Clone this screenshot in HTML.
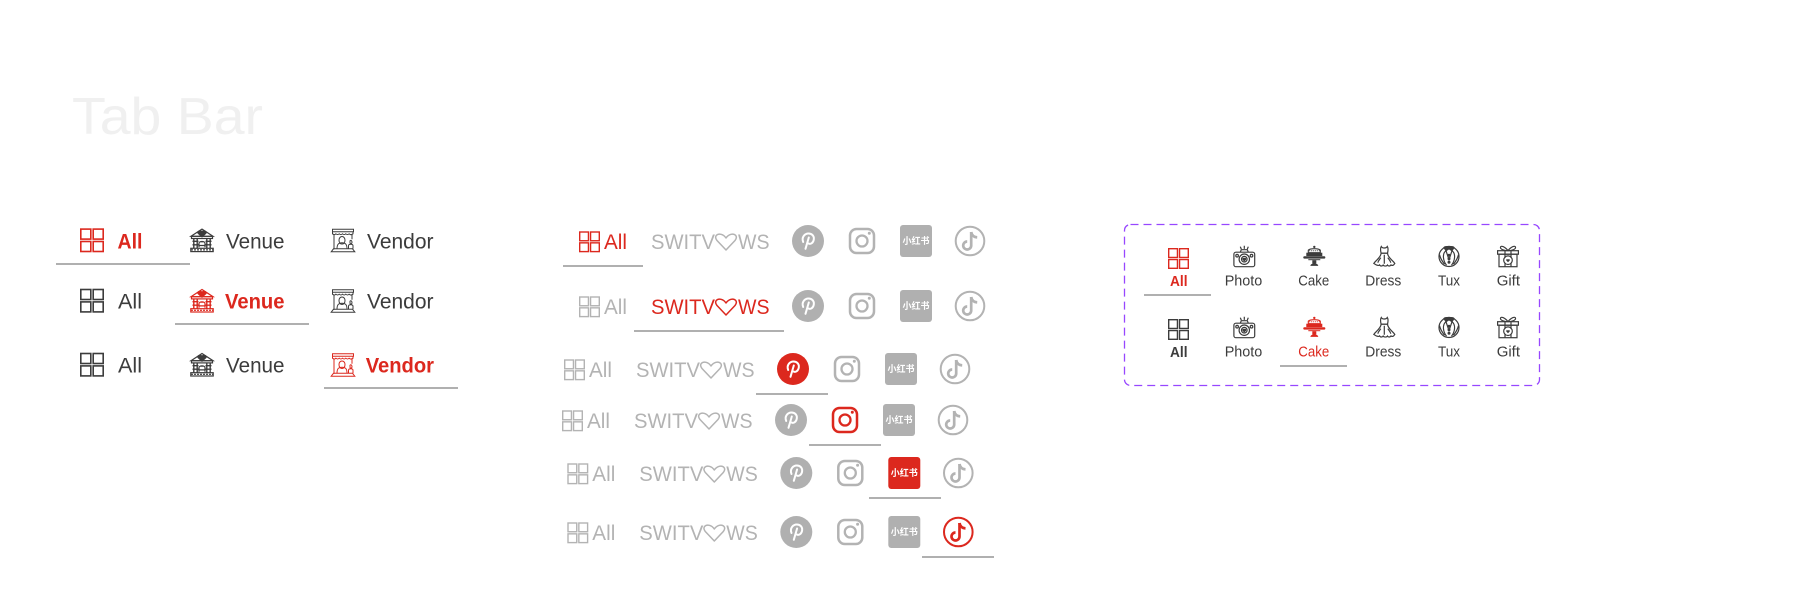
<!DOCTYPE html>
<html lang="en">
<head>
<meta charset="utf-8">
<title>Tab Bar</title>
<style>
html,body{margin:0;padding:0;background:#fff;width:1800px;height:593px;overflow:hidden}
svg{display:block}
text{font-family:"Liberation Sans","Noto Sans CJK SC",sans-serif}
.u{fill:#b0b0b0}
.g{fill:#b3b3b3}
.d{fill:#3c3c3c}
.r{fill:#dc281e}
.b{font-weight:bold}
.xhs{font-family:"Noto Sans CJK SC","Liberation Sans",sans-serif;font-weight:bold;font-size:9px;fill:#fff;text-anchor:middle}
</style>
</head>
<body>
<svg width="1800" height="593" viewBox="0 0 1800 593" xmlns="http://www.w3.org/2000/svg">
<defs>
<g id="grid" fill="none" stroke="currentColor" stroke-width="1.6">
<rect x=".8" y=".8" width="10" height="10"/><rect x="13.2" y=".8" width="10" height="10"/>
<rect x=".8" y="13.2" width="10" height="10"/><rect x="13.2" y="13.2" width="10" height="10"/>
</g>
<g id="venue" fill="none" stroke="currentColor" stroke-width="1.200">
<path d="M1 8 12 .8 23 8z"/>
<path d="M12 8.500 8 4.800c-.8-2 2.600-3 4-1.300 1.400-1.700 4.800-.7 4 1.300z" fill="currentColor"/>
<rect x="1.500" y="8" width="21" height="2.200"/>
<path d="M3.800 10v10M7.200 10v10M16.800 10v10M20.200 10v10M2.500 13h6M15.500 13h6M2.500 16.500h6M15.500 16.500h6" stroke-width="1.400"/>
<path d="M9 19v-4c0-2.500 6-2.500 6 0v4M8.500 17.200h7M10.500 13.500h3"/>
<rect x=".8" y="20" width="22.400" height="3.300"/><path d="M1 21.600h22" stroke-dasharray="2 1"/>
</g>
<g id="vendor" fill="none" stroke="currentColor" stroke-width="1">
<path d="M1.500 1h21v2.500h-21zM1.500 3.500v2c1.500 1.200 2.500 1 3.400 0 1 1 2.400 1 3.300 0 1 1 2.400 1 3.300 0 1 1 2.400 1 3.300 0 1 1 2.400 1 3.300 0 1 1 2.400 1.200 3.900 0v-2"/>
<path d="M3 6v15M21 6v5"/>
<path d="M.2 23.500 2.500 20.500h19l2.300 3z"/>
<path d="M8 12c0-5 6-5 6 0s-6 5-6 0zM6 20.500c0-5 2-6 5-6s5 1 5 6"/>
<path d="M19 12.500c1-1 2 0 2 1.500s-2 2-2 .5zM17.500 20.500v-3c0-2 4.500-2 4.500 0v3"/>
</g>
<g id="pin">
<path d="M-4.800 1C-6.800-4-3-7.500.5-7.500 4-7.500 6.300-5 5.800-1.500 5.300 2 2.500 3.500.5 2.500M.8-3.500-2.500 7.800" fill="none" stroke="#fff" stroke-width="2" stroke-linecap="round"/>
</g>
<g id="ig" fill="none" stroke="currentColor" stroke-width="2.500">
<rect x="-12" y="-12" width="24" height="24" rx="6.500"/>
<circle r="5.500" stroke-width="2.300"/>
<circle cx="7.300" cy="-7.700" r="1.500" fill="currentColor" stroke="none"/>
</g>
<g id="tt" fill="none" stroke="currentColor">
<circle r="14.300" stroke-width="2"/>
<path d="M1.200-9V4.500a4 4 0 1 1-4-4" stroke-width="2.700"/>
<path d="M1.200-9c.5 3.300 2.800 5.200 6 5.400" stroke-width="2.700"/>
</g>
<path id="heart" d="M726 250 717 240.500C713.500 236 717.500 233.500 721 234.300 723.500 234.900 725 236.500 726 238 727 236.500 729 234.900 731 234.300 734.500 233.500 738.500 236 735 240.500Z" fill="none" stroke="currentColor" stroke-width="1.500" stroke-linejoin="round"/>
<g id="camera" fill="none" stroke="currentColor" stroke-width="1.200">
<path d="M11 0v3.200M7 1l1 2.400M15 1l-1 2.400"/>
<path d="M7 6.500 8 4h6l1 2.500"/>
<rect x=".6" y="6.500" width="20.800" height="14.500" rx="2"/>
<circle cx="11" cy="13.500" r="5.200"/><circle cx="11" cy="13.500" r="2.800"/>
<path d="M11 15l-1.300-1.300c-.5-1 1-1.500 1.300-.6.300-.9 1.800-.4 1.300.6z" fill="currentColor"/>
<circle cx="3.800" cy="10" r="1.300"/><circle cx="18.200" cy="10" r="1.300"/>
</g>
<g id="cake" fill="currentColor">
<circle cx="11" cy="1.200" r="1.200"/>
<path d="M5 7V4.500C7 2.500 15 2.500 17 4.500V7z" fill="none" stroke="currentColor" stroke-width="1.100"/>
<path d="M5.500 5h11" stroke="currentColor" stroke-dasharray="1 1" fill="none"/>
<rect x="3" y="7" width="16" height="3.400"/>
<rect x="0" y="10.500" width="22" height="2.400" rx="1"/>
<rect x="5" y="13.500" width="12" height="1"/>
<path d="M9 14.500h4v3.500h-4z"/>
<path d="M7 20.200c.5-2 2-2.400 4-2.400s3.500.400 4 2.400z"/>
</g>
<g id="dress" fill="none" stroke="currentColor" stroke-width="1.200">
<path d="M8 .8c.5 1 1.500 1.500 3 1.500s2.500-.5 3-1.500c1 1.500 1 3.500 .2 6.700h-6.400C7 4.300 7 2.300 8 .8z"/>
<path d="M7.800 7.500H14.200C14.500 12 19.500 14.500 21.500 17.700c-1.500 2.500-3 2.300-3.800 1.500-1 1.500-3 1.300-3.500.2-.8 1.300-3.600 1.300-4.400 0-.6 1.100-2.600 1.300-3.500-.2C5.500 20 4 20.200.5 17.700 2.500 14.500 7.500 12 7.800 7.500z"/>
<path d="M11 9v9M7.500 12c-1 1.500-2.500 3-3 5M14.500 12c1 1.500 2.500 3 3 5"/>
</g>
<g id="tux" fill="none" stroke="currentColor" stroke-width="1.200">
<circle cx="11" cy="10.800" r="10"/>
<path d="M6 1.800 8 5 11 3 14 5 16 1.800C15 .5 7 .5 6 1.800z" fill="currentColor"/>
<path d="M8 5C4 8 5 15 8.500 19.500M14 5C18 8 17 15 13.500 19.500M8 5 11 14 14 5M1.500 9c1 4 3 7 5 9.500M20.500 9c-1 4-3 7-5 9.500"/>
<circle cx="11" cy="9.500" r=".9" fill="currentColor"/><circle cx="11" cy="13" r=".9" fill="currentColor"/><circle cx="11" cy="16.500" r=".9" fill="currentColor"/>
</g>
<g id="gift" fill="none" stroke="currentColor" stroke-width="1.200">
<rect x=".6" y="5" width="20.800" height="3.500"/>
<rect x="2" y="8.500" width="18" height="12.500"/>
<path d="M11 5C8 1 4 -.5 3.500 1.500 3 3.500 7 5 11 5zM11 5c3-4 7-5.500 7.500-3.500C19 3.500 15 5 11 5z"/>
<path d="M8 5v7M14 5v7M8 17v4M14 17v4"/>
<circle cx="11" cy="14.500" r="4.300"/>
<path d="M11 16.500 9.300 14.800c-.7-1.200 1.200-2 1.700-.8.500-1.200 2.400-.4 1.700.8z" fill="currentColor" stroke="none"/>
</g>
</defs>

<text x="72" y="134" font-size="52" fill="#f0f0f0" textLength="191" lengthAdjust="spacingAndGlyphs">Tab Bar</text>

<!-- Left tab bars -->
<g font-size="21">
<use href="#grid" x="80" y="228.300" color="#dc281e"/>
<text class="r b" x="117.500" y="248.500" textLength="25" lengthAdjust="spacingAndGlyphs">All</text>
<use href="#venue" x="190" y="228.300" color="#3c3c3c"/>
<text class="d" x="226" y="248.500" textLength="58.500" lengthAdjust="spacingAndGlyphs">Venue</text>
<use href="#vendor" x="331" y="228.300" color="#3c3c3c"/>
<text class="d" x="367" y="248.500" textLength="66.500" lengthAdjust="spacingAndGlyphs">Vendor</text>
<rect class="u" x="56" y="263" width="134" height="2"/>

<use href="#grid" x="80" y="288.700" color="#3c3c3c"/>
<text class="d" x="118" y="308.500" textLength="24" lengthAdjust="spacingAndGlyphs">All</text>
<use href="#venue" x="190" y="288.700" color="#dc281e"/>
<text class="r b" x="225" y="308.500" textLength="59.500" lengthAdjust="spacingAndGlyphs">Venue</text>
<use href="#vendor" x="331" y="288.700" color="#3c3c3c"/>
<text class="d" x="367" y="308.500" textLength="66.500" lengthAdjust="spacingAndGlyphs">Vendor</text>
<rect class="u" x="175" y="323" width="134" height="2"/>

<use href="#grid" x="80" y="352.700" color="#3c3c3c"/>
<text class="d" x="118" y="372.500" textLength="24" lengthAdjust="spacingAndGlyphs">All</text>
<use href="#venue" x="190" y="352.700" color="#3c3c3c"/>
<text class="d" x="226" y="372.500" textLength="58.500" lengthAdjust="spacingAndGlyphs">Venue</text>
<use href="#vendor" x="331" y="352.700" color="#dc281e"/>
<text class="r b" x="365.700" y="372.500" textLength="68.300" lengthAdjust="spacingAndGlyphs">Vendor</text>
<rect class="u" x="324" y="387" width="134" height="2"/>
</g>

<!-- Middle tab bars -->
<g font-size="21">
<!-- Row 1 -->
<g>
<use href="#grid" transform="translate(579 231.300) scale(.875)" color="#dc281e"/>
<text class="r" x="604" y="249" textLength="23" lengthAdjust="spacingAndGlyphs">All</text>
<text class="g" x="651" y="249" textLength="64" lengthAdjust="spacingAndGlyphs">SWITV</text>
<use href="#heart" color="#b3b3b3"/>
<text class="g" x="738" y="249" textLength="31.500" lengthAdjust="spacingAndGlyphs">WS</text>
<circle cx="808" cy="241" r="16" fill="#b0b0b0"/><use href="#pin" x="808" y="241"/>
<use href="#ig" x="862" y="241" color="#b3b3b3"/>
<rect x="900" y="225" width="32" height="32" rx="3" fill="#b0b0b0"/><text class="xhs" x="916" y="244">小红书</text>
<use href="#tt" x="970" y="241" color="#b3b3b3"/>
<rect class="u" x="563" y="265" width="80" height="2"/>
</g>
<!-- Row 2 -->
<g transform="translate(0 65)">
<use href="#grid" transform="translate(579 231.300) scale(.875)" color="#b3b3b3"/>
<text class="g" x="604" y="249" textLength="23" lengthAdjust="spacingAndGlyphs">All</text>
<text class="r" x="651" y="249" textLength="64" lengthAdjust="spacingAndGlyphs">SWITV</text>
<use href="#heart" color="#dc281e"/>
<text class="r" x="738" y="249" textLength="31.500" lengthAdjust="spacingAndGlyphs">WS</text>
<circle cx="808" cy="241" r="16" fill="#b0b0b0"/><use href="#pin" x="808" y="241"/>
<use href="#ig" x="862" y="241" color="#b3b3b3"/>
<rect x="900" y="225" width="32" height="32" rx="3" fill="#b0b0b0"/><text class="xhs" x="916" y="244">小红书</text>
<use href="#tt" x="970" y="241" color="#b3b3b3"/>
<rect class="u" x="634" y="265" width="150" height="2"/>
</g>
<!-- Row 3 -->
<g transform="translate(-15 128)">
<use href="#grid" transform="translate(579 231.300) scale(.875)" color="#b3b3b3"/>
<text class="g" x="604" y="249" textLength="23" lengthAdjust="spacingAndGlyphs">All</text>
<text class="g" x="651" y="249" textLength="64" lengthAdjust="spacingAndGlyphs">SWITV</text>
<use href="#heart" color="#b3b3b3"/>
<text class="g" x="738" y="249" textLength="31.500" lengthAdjust="spacingAndGlyphs">WS</text>
<circle cx="808" cy="241" r="16" fill="#dc281e"/><use href="#pin" x="808" y="241"/>
<use href="#ig" x="862" y="241" color="#b3b3b3"/>
<rect x="900" y="225" width="32" height="32" rx="3" fill="#b0b0b0"/><text class="xhs" x="916" y="244">小红书</text>
<use href="#tt" x="970" y="241" color="#b3b3b3"/>
<rect class="u" x="771" y="265" width="72" height="2"/>
</g>
<!-- Row 4 -->
<g transform="translate(-17 179)">
<use href="#grid" transform="translate(579 231.300) scale(.875)" color="#b3b3b3"/>
<text class="g" x="604" y="249" textLength="23" lengthAdjust="spacingAndGlyphs">All</text>
<text class="g" x="651" y="249" textLength="64" lengthAdjust="spacingAndGlyphs">SWITV</text>
<use href="#heart" color="#b3b3b3"/>
<text class="g" x="738" y="249" textLength="31.500" lengthAdjust="spacingAndGlyphs">WS</text>
<circle cx="808" cy="241" r="16" fill="#b0b0b0"/><use href="#pin" x="808" y="241"/>
<use href="#ig" x="862" y="241" color="#dc281e"/>
<rect x="900" y="225" width="32" height="32" rx="3" fill="#b0b0b0"/><text class="xhs" x="916" y="244">小红书</text>
<use href="#tt" x="970" y="241" color="#b3b3b3"/>
<rect class="u" x="826" y="265" width="72" height="2"/>
</g>
<!-- Row 5 -->
<g transform="translate(-11.700 232)">
<use href="#grid" transform="translate(579 231.300) scale(.875)" color="#b3b3b3"/>
<text class="g" x="604" y="249" textLength="23" lengthAdjust="spacingAndGlyphs">All</text>
<text class="g" x="651" y="249" textLength="64" lengthAdjust="spacingAndGlyphs">SWITV</text>
<use href="#heart" color="#b3b3b3"/>
<text class="g" x="738" y="249" textLength="31.500" lengthAdjust="spacingAndGlyphs">WS</text>
<circle cx="808" cy="241" r="16" fill="#b0b0b0"/><use href="#pin" x="808" y="241"/>
<use href="#ig" x="862" y="241" color="#b3b3b3"/>
<rect x="900" y="225" width="32" height="32" rx="3" fill="#dc281e"/><text class="xhs" x="916" y="244">小红书</text>
<use href="#tt" x="970" y="241" color="#b3b3b3"/>
<rect class="u" x="880.700" y="265" width="72" height="2"/>
</g>
<!-- Row 6 -->
<g transform="translate(-11.700 291)">
<use href="#grid" transform="translate(579 231.300) scale(.875)" color="#b3b3b3"/>
<text class="g" x="604" y="249" textLength="23" lengthAdjust="spacingAndGlyphs">All</text>
<text class="g" x="651" y="249" textLength="64" lengthAdjust="spacingAndGlyphs">SWITV</text>
<use href="#heart" color="#b3b3b3"/>
<text class="g" x="738" y="249" textLength="31.500" lengthAdjust="spacingAndGlyphs">WS</text>
<circle cx="808" cy="241" r="16" fill="#b0b0b0"/><use href="#pin" x="808" y="241"/>
<use href="#ig" x="862" y="241" color="#b3b3b3"/>
<rect x="900" y="225" width="32" height="32" rx="3" fill="#b0b0b0"/><text class="xhs" x="916" y="244">小红书</text>
<use href="#tt" x="970" y="241" color="#dc281e"/>
<rect class="u" x="933.700" y="265" width="72" height="2"/>
</g>
</g>

<!-- Right tab bars -->
<rect x="1124.500" y="224.500" width="415" height="161" rx="6" fill="none" stroke="#9747ff" stroke-width="1.300" stroke-dasharray="8 5"/>
<g font-size="15">
<use href="#grid" transform="translate(1168 248) scale(.875)" color="#dc281e"/>
<text class="r b" x="1170" y="286" textLength="17.500" lengthAdjust="spacingAndGlyphs">All</text>
<use href="#camera" x="1233.300" y="245.700" color="#3c3c3c"/>
<text class="d" x="1224.700" y="285.700" textLength="37.600" lengthAdjust="spacingAndGlyphs">Photo</text>
<use href="#cake" x="1303.300" y="245.700" color="#3c3c3c"/>
<text class="d" x="1298.300" y="285.700" textLength="31" lengthAdjust="spacingAndGlyphs">Cake</text>
<use href="#dress" x="1373.300" y="245.700" color="#3c3c3c"/>
<text class="d" x="1365.300" y="285.700" textLength="36" lengthAdjust="spacingAndGlyphs">Dress</text>
<use href="#tux" x="1438" y="245.700" color="#3c3c3c"/>
<text class="d" x="1438" y="285.700" textLength="22" lengthAdjust="spacingAndGlyphs">Tux</text>
<use href="#gift" x="1497" y="245.700" color="#3c3c3c"/>
<text class="d" x="1496.700" y="285.700" textLength="23.300" lengthAdjust="spacingAndGlyphs">Gift</text>
<rect class="u" x="1144" y="294" width="67" height="2"/>

<use href="#grid" transform="translate(1168 319) scale(.875)" color="#3c3c3c"/>
<text class="d b" x="1170" y="357" textLength="17.500" lengthAdjust="spacingAndGlyphs">All</text>
<use href="#camera" x="1233.300" y="316.700" color="#3c3c3c"/>
<text class="d" x="1224.700" y="356.700" textLength="37.600" lengthAdjust="spacingAndGlyphs">Photo</text>
<use href="#cake" x="1303.300" y="316.700" color="#dc281e"/>
<text class="r" x="1298.300" y="356.700" textLength="31" lengthAdjust="spacingAndGlyphs">Cake</text>
<use href="#dress" x="1373.300" y="316.700" color="#3c3c3c"/>
<text class="d" x="1365.300" y="356.700" textLength="36" lengthAdjust="spacingAndGlyphs">Dress</text>
<use href="#tux" x="1438" y="316.700" color="#3c3c3c"/>
<text class="d" x="1438" y="356.700" textLength="22" lengthAdjust="spacingAndGlyphs">Tux</text>
<use href="#gift" x="1497" y="316.700" color="#3c3c3c"/>
<text class="d" x="1496.700" y="356.700" textLength="23.300" lengthAdjust="spacingAndGlyphs">Gift</text>
<rect class="u" x="1280" y="365" width="67" height="2"/>
</g>
</svg>
</body>
</html>
